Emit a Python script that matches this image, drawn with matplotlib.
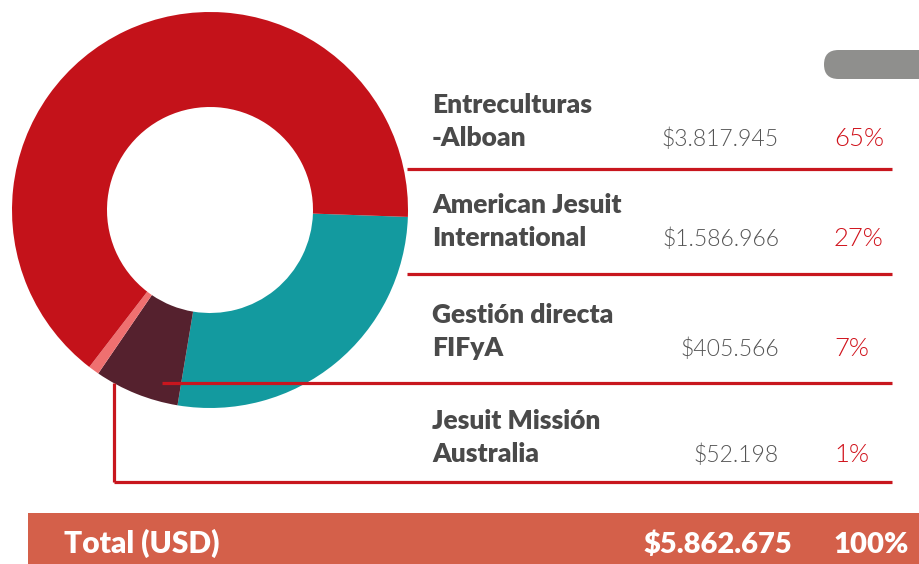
import matplotlib
matplotlib.use("Agg")
from matplotlib import pyplot as plt
from matplotlib.patches import Rectangle, FancyBboxPatch

plt.rcParams['font.family'] = ['Lato', 'DejaVu Sans']

# data
names = [("Entreculturas", "-Alboan"),
         ("American Jesuit", "International"),
         ("Gestión directa", "FIFyA"),
         ("Jesuit Missión", "Australia")]
amounts = [3817945, 1586966, 405566, 52198]
colors = ["#c4121a", "#139a9f", "#55212e", "#ef7070"]
total_label = "Total (USD)"

total = sum(amounts)
pcts = [round(a / total * 100) for a in amounts]

def money(v):
    return "$" + f"{v:,}".replace(",", ".")

W, H = 920, 564
def Y(y):
    return H - y

fig = plt.figure(figsize=(9.2, 5.64), dpi=100)
ax = fig.add_axes([0, 0, 1, 1])

# donut, clockwise from the right: teal, maroon, pink, red
order = [1, 2, 3, 0]
ax.pie([amounts[i] for i in order], colors=[colors[i] for i in order],
       startangle=-2, counterclock=False, center=(210, Y(210)), radius=198,
       wedgeprops=dict(width=95, linewidth=0), frame=True)

ax.set_xlim(0, W)
ax.set_ylim(0, H)
ax.set_aspect('equal')
ax.axis('off')

line_c = "#c8161e"
sep_y = [169, 274, 383, 482]
sep_x0 = [407, 407, 162, 114]
for y, x0 in zip(sep_y, sep_x0):
    ax.plot([x0, 892], [Y(y), Y(y)], color=line_c, lw=2.3, solid_capstyle='butt', zorder=5)
ax.plot([114, 114], [Y(383), Y(482)], color=line_c, lw=2.3, solid_capstyle='butt', zorder=5)

# table text
base2 = [146, 246, 356, 462]
for (l1, l2), a, p, b in zip(names, amounts, pcts, base2):
    ax.text(432, Y(b - 33), l1, fontsize=19, fontweight='heavy', color="#4a4a4a", va='baseline')
    ax.text(432, Y(b), l2, fontsize=19, fontweight='heavy', color="#4a4a4a", va='baseline')
    ax.text(779, Y(b), money(a), fontsize=16.5, fontweight=300, color="#555555",
            ha='right', va='baseline')
    ax.text(834, Y(b), f"{p}%", fontsize=18.5, fontweight=300, color="#d0121b",
            ha='left', va='baseline')

# grey tab top right
ax.add_patch(FancyBboxPatch((824, Y(79)), 140, 29,
                            boxstyle="round,pad=0,rounding_size=14.5",
                            facecolor="#8f8f8d", edgecolor='none', clip_on=True))

# total bar
ax.add_patch(Rectangle((28, 0), W - 28, Y(513), facecolor="#d4604a", edgecolor='none'))
ax.text(64, Y(553), total_label, fontsize=21.5, fontweight='heavy', color='white', va='baseline')
ax.text(792, Y(553), money(total), fontsize=21, fontweight='heavy', color='white',
        ha='right', va='baseline')
ax.text(834, Y(553), f"{sum(pcts)}%", fontsize=21, fontweight='heavy', color='white',
        ha='left', va='baseline')

fig.savefig("out.png", dpi=100)
